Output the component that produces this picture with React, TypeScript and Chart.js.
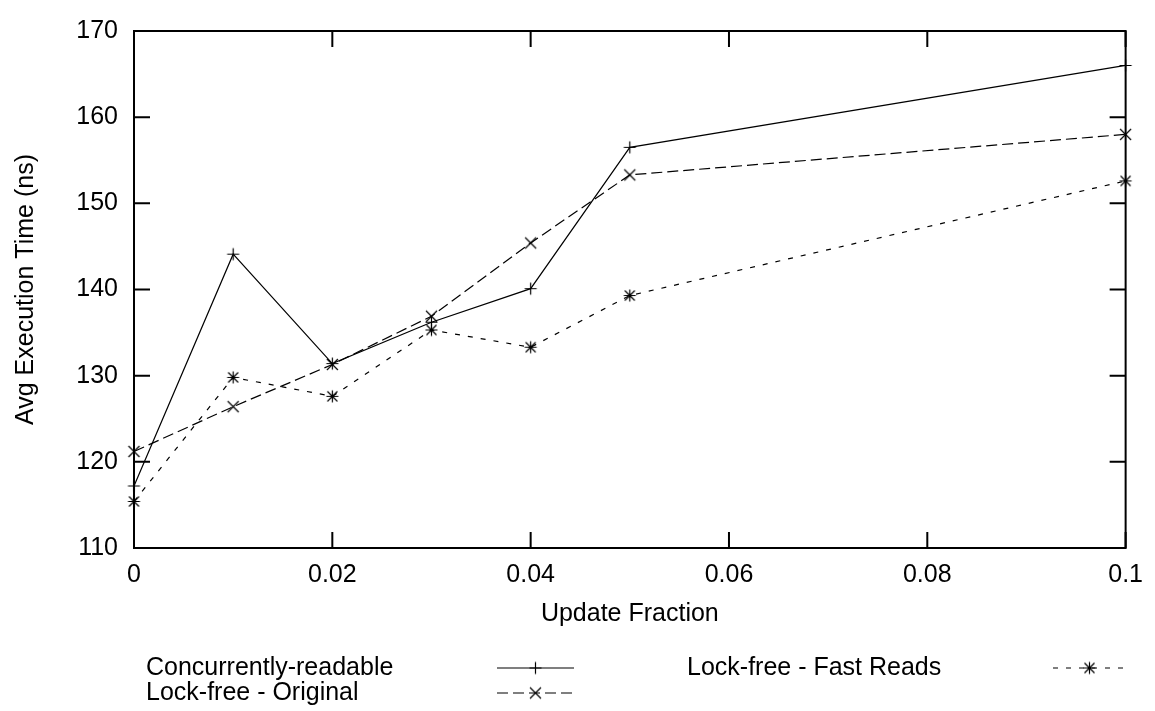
import { useEffect, useRef } from 'react';
import { Chart, registerables } from 'chart.js';
Chart.register(...registerables);

const updateFractions = [0, 0.01, 0.02, 0.03, 0.04, 0.05, 0.1];
const concurrentlyReadable = [117.2, 144.1, 131.4, 136.2, 140.1, 156.5, 166.0];
const lockFreeOriginal = [121.2, 126.4, 131.3, 136.9, 145.4, 153.3, 158.0];
const lockFreeFastReads = [115.4, 129.8, 127.6, 135.3, 133.3, 139.3, 152.6];
const seriesLabels = ['Concurrently-readable', 'Lock-free - Original', 'Lock-free - Fast Reads'];
const xTicks = [0, 0.02, 0.04, 0.06, 0.08, 0.1];
const yTicks = [110, 120, 130, 140, 150, 160, 170];
const xTitle = 'Update Fraction';
const yTitle = 'Avg Execution Time (ns)';

const FONT = "'Liberation Sans', Arial, sans-serif";
const FONT_SIZE = 25;

function makeMarker(kind: string): HTMLCanvasElement {
  const c = document.createElement('canvas');
  c.width = 15;
  c.height = 15;
  const g = c.getContext('2d')!;
  const m = 7.5;
  g.strokeStyle = '#000';
  g.lineWidth = 1.2;
  g.beginPath();
  if (kind === 'plus' || kind === 'star') {
    g.moveTo(m - 6, m); g.lineTo(m + 6, m);
    g.moveTo(m, m - 6); g.lineTo(m, m + 6);
  }
  if (kind === 'x' || kind === 'star') {
    const h = kind === 'x' ? 5.5 : 5;
    g.moveTo(m - h, m - h); g.lineTo(m + h, m + h);
    g.moveTo(m - h, m + h); g.lineTo(m + h, m - h);
  }
  g.stroke();
  return c;
}

export default function App() {
  const ref = useRef<HTMLCanvasElement | null>(null);

  useEffect(() => {
    document.body.style.margin = '0';
    const canvas = ref.current;
    if (!canvas) return;

    const markers = [makeMarker('plus'), makeMarker('x'), makeMarker('star')];
    const dashes: number[][] = [[], [11, 5], [5, 8]];
    const values = [concurrentlyReadable, lockFreeOriginal, lockFreeFastReads];

    const framePlugin = {
      id: 'gnuFrame',
      beforeDatasetsDraw(chart: any) {
        const { ctx, chartArea, scales } = chart;
        const { left, right, top, bottom } = chartArea;
        const xs = scales.x, ys = scales.y;
        ctx.save();
        ctx.strokeStyle = '#000';
        ctx.lineWidth = 2;
        ctx.beginPath();
        const tl = 16;
        xTicks.forEach((v) => {
          const px = xs.getPixelForValue(v);
          ctx.moveTo(px, bottom); ctx.lineTo(px, bottom - tl);
          ctx.moveTo(px, top); ctx.lineTo(px, top + tl);
        });
        yTicks.forEach((v) => {
          const py = ys.getPixelForValue(v);
          ctx.moveTo(left, py); ctx.lineTo(left + tl, py);
          ctx.moveTo(right, py); ctx.lineTo(right - tl, py);
        });
        ctx.stroke();
        ctx.strokeRect(left, top, right - left, bottom - top);
        ctx.restore();
      },
      afterDraw(chart: any) {
        const { ctx } = chart;
        ctx.save();
        ctx.font = `${FONT_SIZE}px ${FONT}`;
        ctx.fillStyle = '#000';
        ctx.textBaseline = 'middle';
        ctx.textAlign = 'left';
        const items = [
          { text: seriesLabels[0], tx: 146, sx0: 497, sx1: 574, y: 668, i: 0 },
          { text: seriesLabels[1], tx: 146, sx0: 497, sx1: 574, y: 693, i: 1 },
          { text: seriesLabels[2], tx: 687, sx0: 1053, sx1: 1126, y: 668, i: 2 },
        ];
        items.forEach((it) => {
          ctx.fillText(it.text, it.tx, it.y);
          ctx.save();
          ctx.strokeStyle = '#000';
          ctx.lineWidth = 1.2;
          ctx.setLineDash(dashes[it.i]);
          ctx.beginPath();
          ctx.moveTo(it.sx0, it.y);
          ctx.lineTo(it.sx1, it.y);
          ctx.stroke();
          ctx.restore();
          const mk = markers[it.i];
          const cx = (it.sx0 + it.sx1) / 2;
          ctx.drawImage(mk, cx - mk.width / 2, it.y - mk.height / 2);
        });
        ctx.restore();
      },
    };

    Chart.defaults.font.family = FONT;
    Chart.defaults.font.size = FONT_SIZE;
    Chart.defaults.color = '#000';

    const chart = new Chart(canvas, {
      type: 'line',
      data: {
        datasets: values.map((vals, i) => ({
          label: seriesLabels[i],
          data: updateFractions.map((x, k) => ({ x, y: vals[k] })),
          borderColor: '#000',
          backgroundColor: 'transparent',
          borderWidth: 1.2,
          borderDash: dashes[i],
          pointStyle: markers[i] as any,
          pointRadius: 7,
          tension: 0,
          fill: false,
          clip: false as any,
        })),
      },
      options: {
        responsive: false,
        animation: false,
        layout: { padding: { left: 0, right: 27, top: 20, bottom: 82 } },
        plugins: { legend: { display: false }, tooltip: { enabled: false } },
        scales: {
          x: {
            type: 'linear',
            min: 0,
            max: 0.1,
            grid: { display: false, drawTicks: false },
            border: { display: false },
            afterBuildTicks: (s: any) => { s.ticks = xTicks.map((v) => ({ value: v })); },
            afterFit: (s: any) => { s.height = 81; },
            ticks: {
              padding: 12,
              maxRotation: 0,
              autoSkip: false,
              callback: (v: any) => String(Math.round(Number(v) * 100) / 100),
            },
            title: { display: true, text: xTitle, padding: { top: 0, bottom: 0 } },
          },
          y: {
            type: 'linear',
            min: 110,
            max: 170,
            grid: { display: false, drawTicks: false },
            border: { display: false },
            afterBuildTicks: (s: any) => { s.ticks = yTicks.map((v) => ({ value: v })); },
            afterFit: (s: any) => { s.width = 134; },
            ticks: { padding: 16, autoSkip: false, callback: (v: any) => String(v) },
            title: { display: true, text: yTitle, padding: { top: 11, bottom: 0 } },
          },
        },
      },
      plugins: [framePlugin],
    } as any);

    return () => chart.destroy();
  }, []);

  return (
    <div style={{ width: 1155, height: 711 }}>
      <canvas ref={ref} width={1155} height={711} style={{ display: 'block' }} />
    </div>
  );
}
